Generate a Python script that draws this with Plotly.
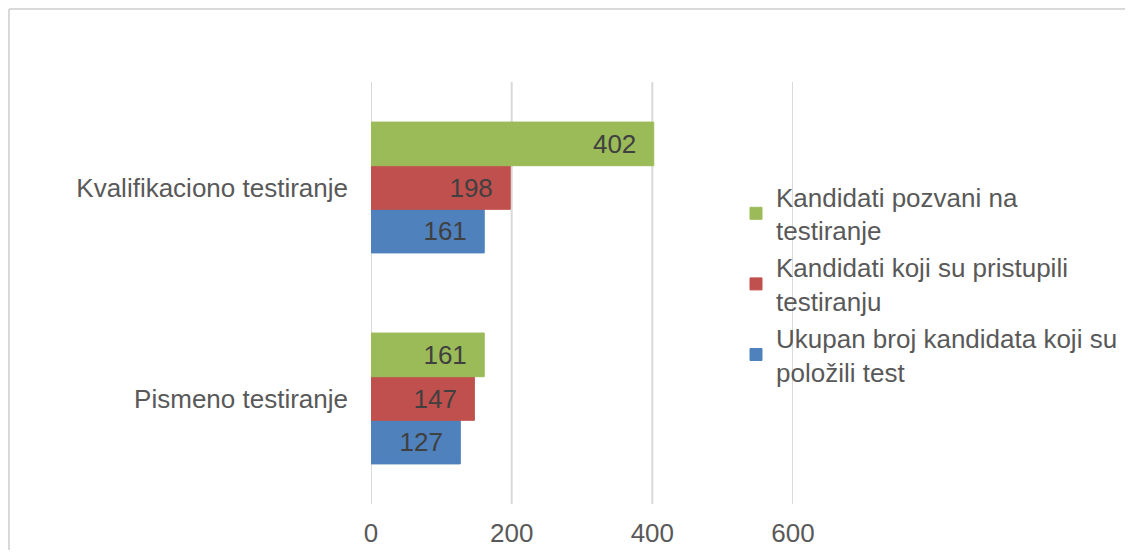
import plotly.graph_objs as go

categories = ["Pismeno testiranje", "Kvalifikaciono testiranje"]
series_names = [
    "Ukupan broj kandidata koji su<br>položili test",
    "Kandidati koji su pristupili<br>testiranju",
    "Kandidati pozvani na<br>testiranje",
]
polozili = [127, 161]
pristupili = [147, 198]
pozvani = [161, 402]
x_ticks = [0, 200, 400, 600]

colors = ["#4F81BD", "#C0504D", "#9BBB59"]
font = "Liberation Sans, Arial, sans-serif"

# page body adds an 8px margin all round, so keep the figure inside the window
W, H = 1117, 542
L, R, T, B = 363, 332, 74, 46

fig = go.Figure()
for name, vals, col in zip(series_names, [polozili, pristupili, pozvani], colors):
    fig.add_trace(go.Bar(
        y=categories, x=vals, name=name, orientation="h",
        marker=dict(color=col, line=dict(color=col, width=1)),
        text=[str(v) + "\u00a0\u00a0" for v in vals], textposition="inside",
        insidetextanchor="end",
        textfont=dict(family=font, size=26, color="#404040"),
    ))

pw, ph = W - L - R, H - T - B
def px(x):
    return (x - L) / pw
def py(y):
    return (H - B - y) / ph

# vertical gridlines (plotly drops the ones on the plot edges)
for t in x_ticks:
    fig.add_shape(type="line", xref="x", yref="paper", x0=t, x1=t, y0=0, y1=1,
                  line=dict(color="#D9D9D9", width=2), layer="below")

# light grey frame: only top and left edges are visible in the picture
fig.add_shape(type="line", xref="paper", yref="paper",
              x0=px(1), x1=px(W), y0=py(1), y1=py(1),
              line=dict(color="#D9D9D9", width=2), layer="below")
fig.add_shape(type="line", xref="paper", yref="paper",
              x0=px(1), x1=px(1), y0=py(1), y1=py(H),
              line=dict(color="#D9D9D9", width=2), layer="below")

fig.update_layout(
    width=W, height=H,
    margin=dict(l=L, r=R, t=T, b=B, autoexpand=False),
    barmode="group", bargap=0.38, bargroupgap=0,
    plot_bgcolor="white", paper_bgcolor="white",
    font=dict(family=font, size=26, color="#595959"),
    uniformtext=dict(mode="show", minsize=26),
    xaxis=dict(range=[0, 600], tickvals=x_ticks, showgrid=False,
               zeroline=False, showline=False, ticks="", automargin=False,
               ticklabelstandoff=11,
               tickfont=dict(size=26, color="#595959")),
    yaxis=dict(showgrid=False, zeroline=False, showline=False, ticks="",
               ticklabelstandoff=22, automargin=False,
               tickfont=dict(size=26, color="#595959")),
    legend=dict(x=px(728), y=py(165), xanchor="left", yanchor="top",
                traceorder="reversed", font=dict(size=26, color="#595959"),
                bgcolor="rgba(0,0,0,0)", itemwidth=30),
    showlegend=True,
)

fig.write_html("out.html")
